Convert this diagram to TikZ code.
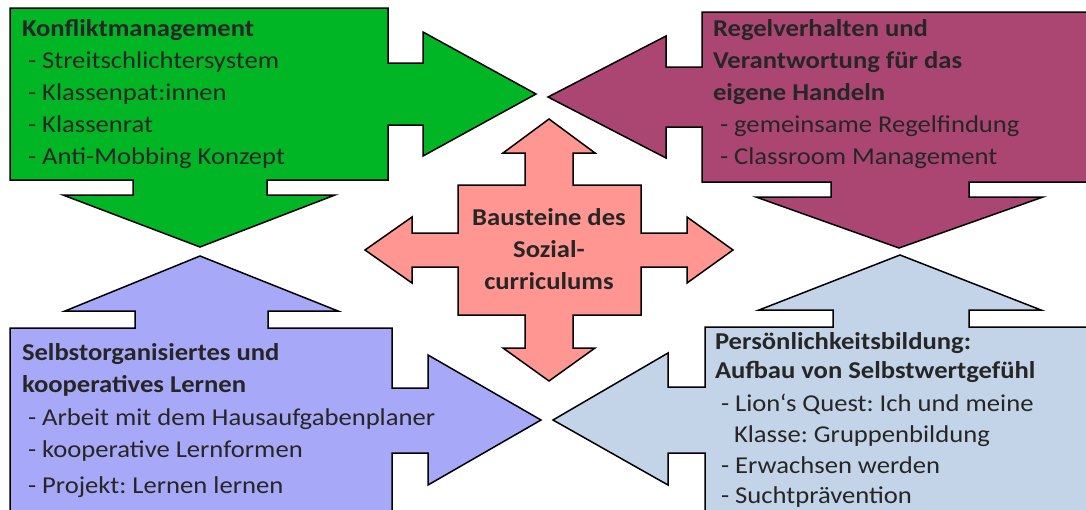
\documentclass[tikz,border=0pt]{standalone}
\usepackage{fontspec}
\setmainfont{Carlito}[FakeStretch=1.1]
\definecolor{cgreen}{RGB}{0,182,36}
\definecolor{cmag}{RGB}{171,70,115}
\definecolor{cpink}{RGB}{255,150,145}
\definecolor{clav}{RGB}{168,168,248}
\definecolor{csteel}{RGB}{195,212,233}
\definecolor{ctext}{RGB}{38,38,38}
\tikzset{
  shapebox/.style={draw=black, line width=1.5pt, line join=miter},
  txt/.style={anchor=base west, inner sep=0pt, outer sep=0pt, text=ctext, font=\fontsize{24.2}{32}\selectfont},
  head/.style={txt, font=\fontsize{24.2}{32}\selectfont\bfseries},
  ctr/.style={anchor=base, inner sep=0pt, text=ctext, font=\fontsize{24.2}{32}\selectfont\bfseries}
}
\frenchspacing
\begin{document}
\begin{tikzpicture}[x=1pt,y=-1pt]
\useasboundingbox (0,0) rectangle (1086,509);
\clip (0,0) rectangle (1086,509);
% green
\draw[shapebox, fill=cgreen] (10,8) -- (388,8) -- (388,63) -- (423,63) -- (423,32) -- (536,94) -- (423,156) -- (423,125) -- (388,125) -- (388,180) -- (267,180) -- (267,195) -- (335,195) -- (200,247) -- (63,195) -- (133,195) -- (133,180) -- (10,180) -- cycle;
% magenta
\draw[shapebox, fill=cmag] (702,12) -- (1100,12) -- (1100,182) -- (969,182) -- (969,197) -- (1043,197) -- (899,248) -- (756,197) -- (831,197) -- (831,182) -- (702,182) -- (702,127) -- (666,127) -- (666,158) -- (548,97) -- (666,36) -- (666,67) -- (702,67) -- cycle;
% lavender
\draw[shapebox, fill=clav] (10,328) -- (135,328) -- (135,311) -- (65,311) -- (200,256) -- (338,311) -- (268,311) -- (268,328) -- (392,328) -- (392,388) -- (428,388) -- (428,355) -- (541,420) -- (428,485) -- (428,453) -- (392,453) -- (392,520) -- (10,520) -- cycle;
% steel blue
\draw[shapebox, fill=csteel] (705,327) -- (833,327) -- (833,310) -- (759,310) -- (900,255) -- (1041,310) -- (969,310) -- (969,327) -- (1100,327) -- (1100,520) -- (705,520) -- (705,453) -- (668,453) -- (668,485) -- (553,420) -- (668,353) -- (668,387) -- (705,387) -- cycle;
% pink cross
\draw[shapebox, fill=cpink] (549,119) -- (595,153) -- (573,153) -- (573,185) -- (641,185) -- (641,233) -- (687,233) -- (687,217) -- (733,250) -- (687,283) -- (687,267) -- (641,267) -- (641,315) -- (573,315) -- (573,348) -- (595,348) -- (549,381) -- (503,348) -- (525,348) -- (525,315) -- (458,315) -- (458,267) -- (412,267) -- (412,283) -- (365,250) -- (412,217) -- (412,233) -- (458,233) -- (458,185) -- (525,185) -- (525,153) -- (503,153) -- cycle;
% green text
\node[head] (g0) at (22,36.5) {Konfliktmanagement};
\node[txt] (g1) at (28,68) {- Streitschlichtersystem};
\node[txt] (g2) at (28,100) {- Klassenpat:innen};
\node[txt] (g3) at (28,132) {- Klassenrat};
\node[txt] (g4) at (28,164) {- Anti-Mobbing Konzept};
% magenta text
\node[head] (m0) at (713,36) {Regelverhalten und};
\node[head] (m1) at (713,68) {Verantwortung für das};
\node[head] (m2) at (713,100) {eigene Handeln};
\node[txt] (m3) at (720,132) {- gemeinsame Regelfindung};
\node[txt] (m4) at (720,164) {- Classroom Management};
% center text
\node[ctr] (c0) at (549,225) {Bausteine des};
\node[ctr] (c1) at (549,257) {Sozial-};
\node[ctr] (c2) at (549,289) {curriculums};
% lavender text
\node[head] (l0) at (22,360) {Selbstorganisiertes und};
\node[head] (l1) at (22,392) {kooperatives Lernen};
\node[txt] (l2) at (28,425) {- Arbeit mit dem Hausaufgabenplaner};
\node[txt] (l3) at (28,457) {- kooperative Lernformen};
\node[txt] (l4) at (28,493) {- Projekt: Lernen lernen};
% steel text
\node[head] (s0) at (715,349) {Persönlichkeitsbildung:};
\node[head] (s1) at (715,378) {Aufbau von Selbstwertgefühl};
\node[txt] (s2) at (721,411) {- Lion‘s Quest: Ich und meine};
\node[txt] (s3) at (734,442) {Klasse: Gruppenbildung};
\node[txt] (s4) at (721,473) {- Erwachsen werden};
\node[txt] (s5) at (721,503) {- Suchtprävention};
\end{tikzpicture}
\end{document}
